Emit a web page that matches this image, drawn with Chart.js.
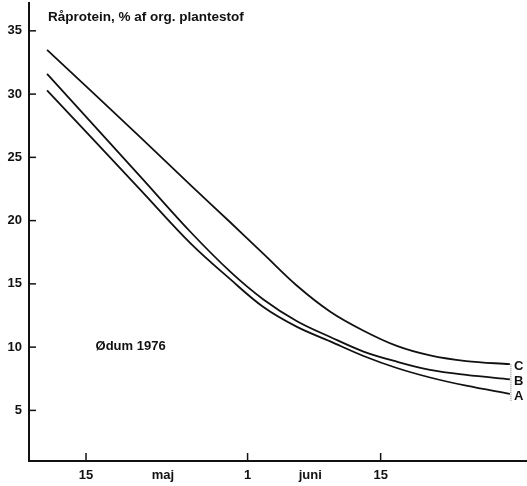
<!DOCTYPE html>
<html>
<head>
<meta charset="utf-8">
<script src="https://cdn.jsdelivr.net/npm/chart.js@4.4.1/dist/chart.umd.min.js"></script>
<style>
  html, body { margin: 0; padding: 0; background: #fff; }
  #wrap { width: 527px; height: 486px; }
</style>
</head>
<body>
<div id="wrap"><canvas id="protein"></canvas></div>
<script>
// day number counted from 1 May (15 = 15 maj, 32 = 1 juni, 46 = 15 juni)
const days = [10.9, 20.7, 26, 30.2, 33.7, 37.2, 40.7, 44.2, 47.7, 51.2, 55, 59.6];
const seriesA = [30.3, 22.45, 18.2, 15.35, 13.15, 11.6, 10.45, 9.3, 8.35, 7.6, 6.95, 6.3];
const seriesB = [31.6, 23.5, 19.1, 15.95, 13.75, 12.05, 10.8, 9.65, 8.85, 8.2, 7.8, 7.45];
const seriesC = [33.5, 26.6, 22.8, 19.85, 17.35, 14.85, 12.8, 11.3, 10.1, 9.35, 8.9, 8.65];
const seriesNames = ["A", "B", "C"];

const yTicks = [5, 10, 15, 20, 25, 30, 35];
const xTickDays = [15, 23.1, 32, 38.6, 46];
const xTickLabels = ["15", "maj", "1", "juni", "15"];
const xTickMarks = [15, 32, 46];

const FONT = "'Liberation Sans', Arial, sans-serif";

const toPoints = (vals) => vals.map((v, i) => ({ x: days[i], y: v }));

const lineStyle = {
  borderColor: "#111",
  borderWidth: 1.8,
  pointRadius: 0,
  fill: false,
  tension: 0.35
};

// inward tick marks, end labels and the free text
const decorations = {
  id: "decorations",
  afterDraw(chart) {
    const { ctx, chartArea: a } = chart;
    const xs = chart.scales.x, ys = chart.scales.y;
    ctx.save();
    ctx.strokeStyle = "#111";
    ctx.lineWidth = 1.5;
    yTicks.forEach(v => {
      const py = ys.getPixelForValue(v);
      ctx.beginPath(); ctx.moveTo(a.left, py); ctx.lineTo(a.left + 7, py); ctx.stroke();
    });
    xTickMarks.forEach(d => {
      const px = xs.getPixelForValue(d);
      ctx.beginPath(); ctx.moveTo(px, a.bottom); ctx.lineTo(px, a.bottom - 8); ctx.stroke();
    });

    // dotted bracket at the line ends
    const lastX = xs.getPixelForValue(days[days.length - 1]);
    const ends = [seriesA, seriesB, seriesC].map(s => ys.getPixelForValue(s[s.length - 1]));
    ctx.lineWidth = 1;
    ctx.strokeStyle = "#777";
    ctx.setLineDash([1, 1]);
    ctx.beginPath(); ctx.moveTo(lastX + 1, ends[2]); ctx.lineTo(lastX + 1, ends[0] + 7); ctx.stroke();
    ctx.setLineDash([]);

    ctx.fillStyle = "#111";
    ctx.font = "bold 13px " + FONT;
    ctx.textBaseline = "middle";
    ctx.textAlign = "left";
    seriesNames.forEach((n, i) => ctx.fillText(n, lastX + 4, ends[i] + 2));

    ctx.fillText("Ødum 1976", xs.getPixelForValue(16), ys.getPixelForValue(10.05));
    ctx.font = "bold 13.5px " + FONT;
    ctx.fillText("Råprotein, % af org. plantestof", xs.getPixelForValue(11), ys.getPixelForValue(36.05));
    ctx.restore();
  }
};

new Chart("protein", {
  type: "line",
  data: {
    datasets: [
      { label: "A", data: toPoints(seriesA), ...lineStyle },
      { label: "B", data: toPoints(seriesB), ...lineStyle },
      { label: "C", data: toPoints(seriesC), ...lineStyle }
    ]
  },
  options: {
    responsive: true,
    maintainAspectRatio: false,
    animation: false,
    layout: { padding: { top: 3, right: 0, left: 0, bottom: 0 } },
    plugins: {
      legend: { display: false },
      tooltip: { enabled: false }
    },
    scales: {
      x: {
        type: "linear",
        min: 9,
        max: 61.4,
        afterBuildTicks: (s) => { s.ticks = xTickDays.map(v => ({ value: v })); },
        afterFit: (s) => { s.height = 25; s.paddingLeft = 0; s.paddingRight = 0; },
        ticks: {
          autoSkip: false,
          maxRotation: 0,
          padding: 7,
          color: "#111",
          font: { family: FONT, size: 13, weight: "bold" },
          callback: (v, i) => xTickLabels[i]
        },
        grid: { display: false, drawTicks: false },
        border: { display: true, color: "#111", width: 2 }
      },
      y: {
        min: 1,
        max: 37.2,
        afterBuildTicks: (s) => { s.ticks = yTicks.map(v => ({ value: v })); },
        afterFit: (s) => { s.width = 29; s.paddingTop = 0; s.paddingBottom = 0; },
        ticks: {
          padding: 7,
          color: "#111",
          font: { family: FONT, size: 13, weight: "bold" }
        },
        grid: { display: false, drawTicks: false },
        border: { display: true, color: "#111", width: 2 }
      }
    }
  },
  plugins: [decorations]
});
</script>
</body>
</html>
